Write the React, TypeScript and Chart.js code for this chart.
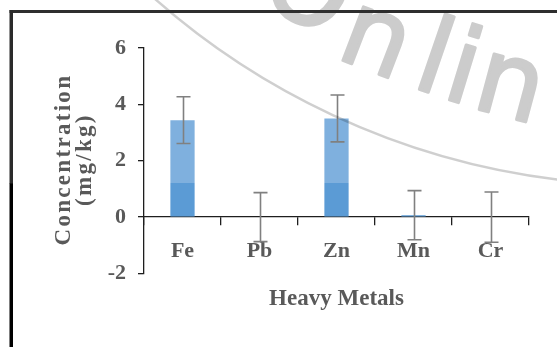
import { useEffect, useRef } from "react";
import { Chart, registerables } from "chart.js";

Chart.register(...registerables);

const categories = ["Fe", "Pb", "Zn", "Mn", "Cr"];
const concentrations = [3.44, 0, 3.5, 0.07, 0];
const errorMargins = [0.83, 0.87, 0.83, 0.87, 0.89];
const yMin = -2;
const yMax = 6;
const yStep = 2;
const xTitle = "Heavy Metals";
const yTitleLines = ["Concentration", "(mg/kg)"];
const watermarkText = "Onlin";

const SERIF = "'Liberation Serif', 'Times New Roman', serif";
const TEXT_GRAY = "#595959";

function drawSpaced(ctx: CanvasRenderingContext2D, text: string, cx: number, y: number, spacing: number) {
  const widths = Array.from(text).map((c) => ctx.measureText(c).width);
  const total = widths.reduce((a, b) => a + b, 0) + spacing * (widths.length - 1);
  let x = cx - total / 2;
  ctx.textAlign = "left";
  Array.from(text).forEach((c, i) => {
    ctx.fillText(c, x, y);
    x += widths[i] + spacing;
  });
}

const decorPlugin = {
  id: "decor",
  beforeDraw(chart: any) {
    const ctx = chart.ctx as CanvasRenderingContext2D;
    ctx.save();
    ctx.fillStyle = "#ffffff";
    ctx.fillRect(0, 0, chart.width, chart.height);
    ctx.restore();
  },
  afterDatasetsDraw(chart: any) {
    const ctx = chart.ctx as CanvasRenderingContext2D;
    const meta = chart.getDatasetMeta(0);
    const yScale = chart.scales.y;
    ctx.save();
    ctx.strokeStyle = "#808080";
    ctx.lineWidth = 1.6;
    meta.data.forEach((bar: any, i: number) => {
      const v = concentrations[i];
      const e = errorMargins[i];
      const x = Math.round(bar.x) + 0.5;
      const yt = yScale.getPixelForValue(v + e);
      const yb = yScale.getPixelForValue(v - e);
      ctx.beginPath();
      ctx.moveTo(x, yt);
      ctx.lineTo(x, yb);
      ctx.moveTo(x - 7, yt);
      ctx.lineTo(x + 7, yt);
      ctx.moveTo(x - 7, yb);
      ctx.lineTo(x + 7, yb);
      ctx.stroke();
    });
    ctx.restore();
  },
  afterDraw(chart: any) {
    const ctx = chart.ctx as CanvasRenderingContext2D;
    const area = chart.chartArea;
    ctx.save();
    // axis titles
    ctx.fillStyle = TEXT_GRAY;
    ctx.textBaseline = "alphabetic";
    ctx.font = `bold 23px ${SERIF}`;
    drawSpaced(ctx, xTitle, (area.left + area.right) / 2, 305, 0);

    ctx.font = `bold 23px ${SERIF}`;
    const midY = (area.top + area.bottom) / 2;
    const baselines = [70, 91];
    yTitleLines.forEach((line, i) => {
      ctx.save();
      ctx.translate(baselines[i], midY);
      ctx.rotate(-Math.PI / 2);
      drawSpaced(ctx, line, 0, 0, 2.3);
      ctx.restore();
    });

    // watermark
    ctx.fillStyle = "#cccccc";
    ctx.strokeStyle = "#cccccc";
    ctx.lineWidth = 3;
    ctx.lineJoin = "round";
    ctx.font = `105px 'DejaVu Sans', sans-serif`;
    ctx.textAlign = "left";
    const placements = [
      { x: 256, y: 0, a: 28 },
      { x: 334, y: 57, a: 21 },
      { x: 410, y: 86, a: 19 },
      { x: 440, y: 97, a: 17 },
      { x: 470, y: 107, a: 15 },
    ];
    Array.from(watermarkText).forEach((ch, i) => {
      const p = placements[i];
      if (!p) return;
      ctx.save();
      ctx.translate(p.x, p.y);
      ctx.rotate((p.a * Math.PI) / 180);
      ctx.fillText(ch, 0, 0);
      ctx.strokeText(ch, 0, 0);
      ctx.restore();
    });
    ctx.strokeStyle = "rgba(0,0,0,0.19)";
    ctx.lineWidth = 2.5;
    ctx.beginPath();
    ctx.arc(648, -561, 746, (94 * Math.PI) / 180, (136 * Math.PI) / 180);
    ctx.stroke();

    // frame
    ctx.fillStyle = "#2e2e2e";
    ctx.fillRect(9.5, 10, 557 - 9.5, 3);
    ctx.fillStyle = "#2a2a2a";
    ctx.fillRect(9.5, 10, 3.5, 174);
    ctx.fillStyle = "#000000";
    ctx.fillRect(9.5, 183.5, 3.5, 347 - 183.5);
    ctx.restore();
  },
};

export default function App() {
  const ref = useRef<HTMLCanvasElement | null>(null);

  useEffect(() => {
    if (!ref.current) return;
    const barFill = (c: any) => {
      const g = c.chart.ctx.createLinearGradient(0, 0, 0, 347);
      const s = 183.5 / 347;
      g.addColorStop(0, "#7fb0de");
      g.addColorStop(s, "#7fb0de");
      g.addColorStop(s, "#5b9bd5");
      g.addColorStop(1, "#5b9bd5");
      return g;
    };
    const tickFont = { family: SERIF, size: 22, weight: "bold" as const };
    const chart = new Chart(ref.current, {
      type: "bar",
      data: {
        labels: categories,
        datasets: [
          {
            label: "Concentration",
            data: concentrations,
            backgroundColor: barFill,
            borderWidth: 0,
            categoryPercentage: 1,
            barPercentage: 0.315,
          },
        ],
      },
      options: {
        animation: false,
        responsive: false,
        maintainAspectRatio: false,
        layout: { padding: { left: 0, right: 28, top: 48, bottom: 73.5 } },
        plugins: {
          legend: { display: false },
          tooltip: { enabled: false },
          title: { display: false },
        },
        scales: {
          x: {
            position: { y: 0 } as any,
            offset: true,
            grid: {
              display: true,
              drawOnChartArea: false,
              drawTicks: true,
              tickLength: 8,
              color: "#1e1e1e",
              offset: true,
              lineWidth: 1.3,
            },
            border: { display: true, color: "#1e1e1e", width: 1.3 },
            ticks: {
              color: TEXT_GRAY,
              font: tickFont,
              padding: 13,
              maxRotation: 0,
            },
          },
          y: {
            min: yMin,
            max: yMax,
            afterFit: (s: any) => {
              s.width = 144;
            },
            grid: {
              display: true,
              drawOnChartArea: false,
              drawTicks: true,
              tickLength: 6,
              color: "#1e1e1e",
              lineWidth: 1.3,
            },
            border: { display: true, color: "#1e1e1e", width: 1.3 },
            ticks: {
              stepSize: yStep,
              color: TEXT_GRAY,
              font: tickFont,
              padding: 12,
            },
          },
        },
      },
      plugins: [decorPlugin],
    });
    return () => chart.destroy();
  }, []);

  return (
    <div style={{ position: "fixed", left: 0, top: 0, width: 557, height: 347, background: "#fff" }}>
      <canvas ref={ref} width={557} height={347} style={{ display: "block" }} />
    </div>
  );
}
